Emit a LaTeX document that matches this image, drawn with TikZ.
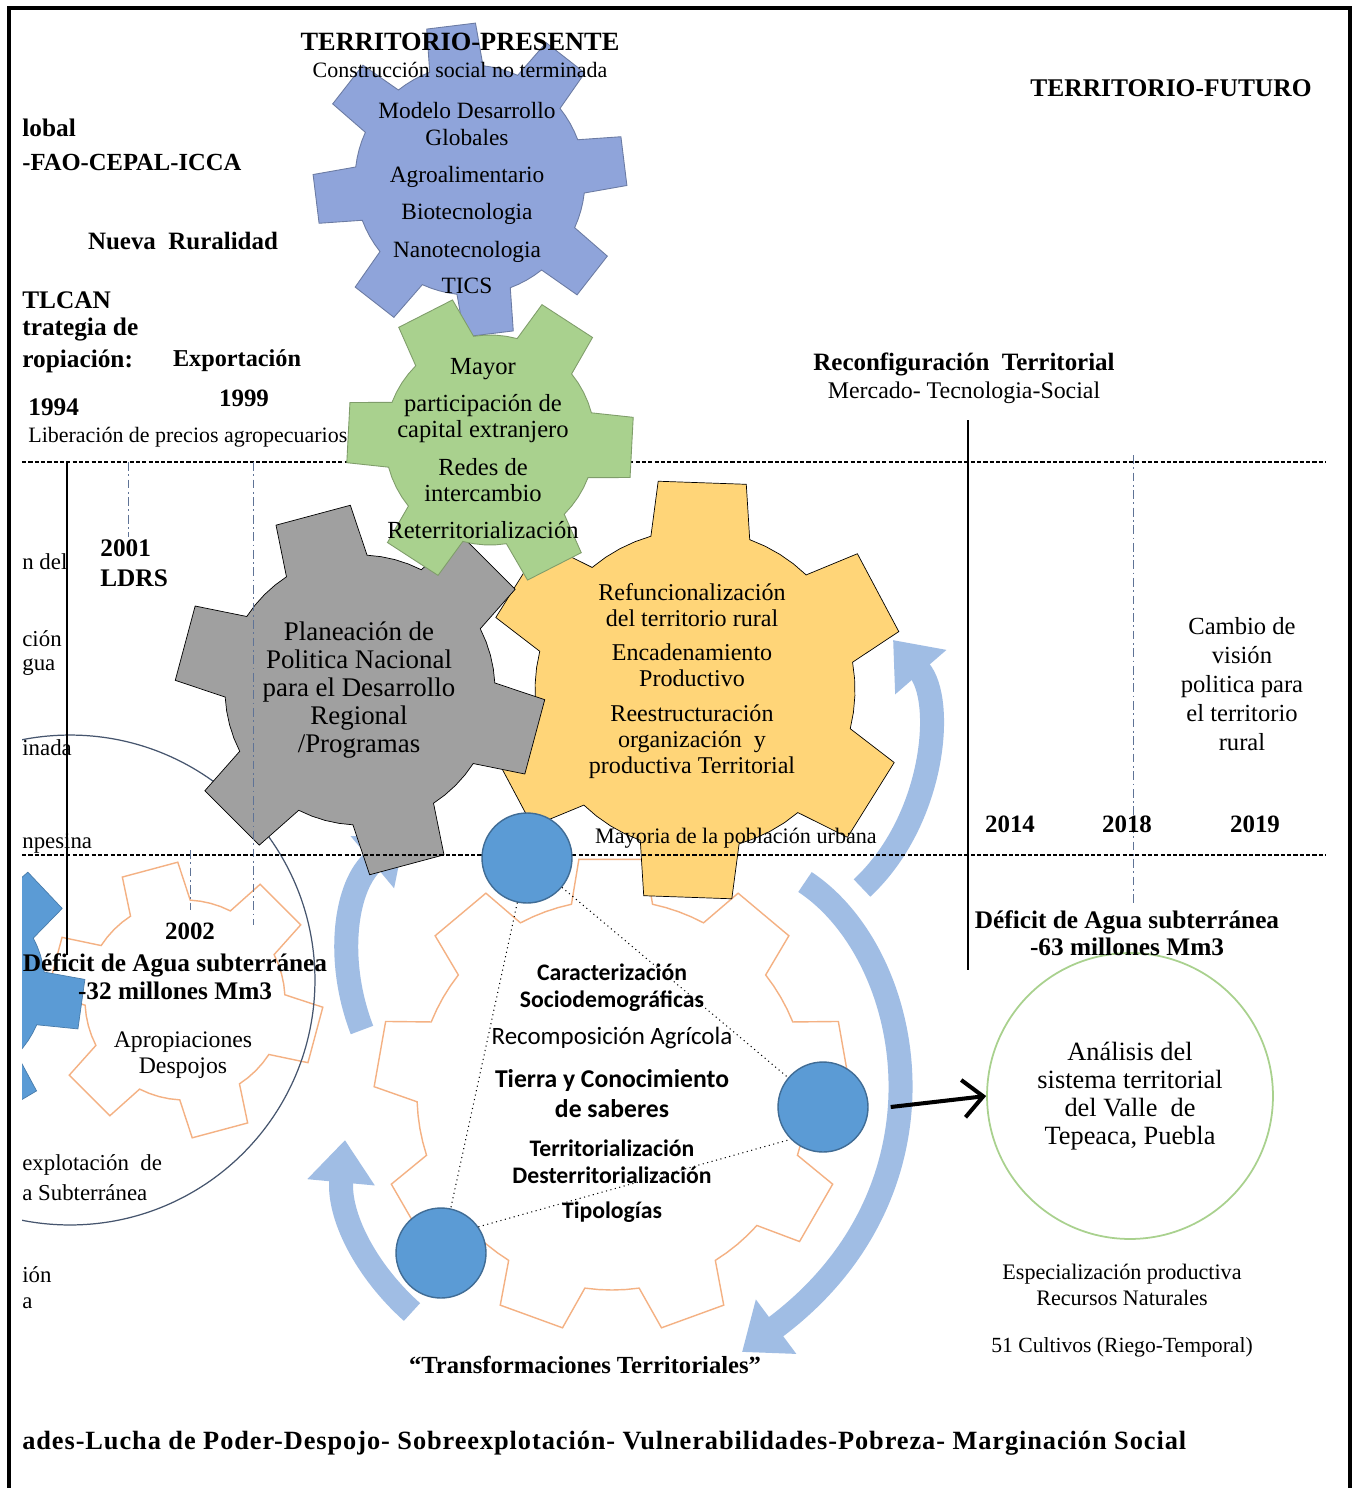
\documentclass[tikz,border=0pt]{standalone}
\usepackage{fontspec}
\setmainfont{Liberation Serif}
\newfontfamily\calib{Carlito}
\newfontfamily\widebold[LetterSpace=3.5]{Liberation Serif}
\usetikzlibrary{arrows.meta}

\definecolor{gblue}{RGB}{143,164,218}
\definecolor{ggreen}{RGB}{169,209,142}
\definecolor{ggray}{RGB}{160,160,160}
\definecolor{gyellow}{RGB}{255,213,120}
\definecolor{gorange}{RGB}{244,177,131}
\definecolor{dotblue}{RGB}{91,155,213}
\definecolor{cycblue}{RGB}{160,189,228}
\definecolor{ringgray}{RGB}{70,85,110}
\definecolor{tickblue}{RGB}{95,115,150}

% center, teeth, inner r, outer r, rotation, style
\newcommand{\gear}[6]{%
  \pgfmathsetmacro\gpitch{360/#2}
  \draw[#6, shift={#1}] ({#5-0.3*\gpitch}:#3)
    \foreach \k [evaluate=\k as \ga using #5+(\k-1)*\gpitch] in {1,...,#2} {
      -- ({\ga-0.2*\gpitch}:#4) -- ({\ga+0.2*\gpitch}:#4) -- ({\ga+0.3*\gpitch}:#3)
      -- ({\ga+0.4*\gpitch}:#3) -- ({\ga+0.5*\gpitch}:#3) -- ({\ga+0.6*\gpitch}:#3) -- ({\ga+0.7*\gpitch}:#3)
    } -- cycle;
}

\begin{document}
\begin{tikzpicture}[x=0.02cm, y=-0.02cm,
    txt/.style={inner sep=0pt, align=center, font=\fontsize{13.5}{15}\selectfont},
    btxt/.style={inner sep=0pt, align=center, font=\fontsize{14.2}{16}\selectfont\bfseries},
    side/.style={inner sep=0pt, anchor=west, align=left, font=\fontsize{13}{15}\selectfont},
    bside/.style={side, font=\fontsize{14.4}{16}\selectfont\bfseries},
    dashline/.style={line width=0.6pt, dash pattern=on 2.4pt off 1.2pt},
    tick/.style={tickblue, line width=0.5pt, dash pattern=on 5pt off 2pt on 1pt off 2pt},
    cyc/.style={cycblue, line width=0.48cm, -{Triangle[width=1.3cm, length=0.85cm]}},
    dot/.style={circle, fill=dotblue, draw=dotblue!70!black, line width=0.8pt, minimum size=1.8cm, inner sep=0pt},
    link/.style={dotted, line width=0.6pt}]

    \useasboundingbox (0,0) rectangle (1354,1488);
    \fill[white] (0,0) rectangle (1354,1488);

    \begin{scope}
        \clip (22,0) rectangle (1354,1488);

        \gear{(612,1095)}{9}{195}{238}{-90}{gorange, line width=0.8pt, fill=white}
        \gear{(185,1000)}{6}{100}{138}{15}{gorange, line width=0.8pt}
        \draw[ringgray, line width=0.7pt] (70,980) circle (4.9cm);
        \gear{(-55,985)}{7}{100}{140}{8}{fill=dotblue, draw=dotblue!80!black}

        \gear{(470,180)}{8}{115}{157}{-97}{fill=gblue, draw=gblue!75!black, line width=0.5pt}
        \gear{(695,690)}{6}{160}{212}{-28}{fill=gyellow}

        \draw[cyc] (805,882) .. controls (915,955) and (960,1190) .. (742,1352);
        \draw[cyc] (412,1312) .. controls (365,1270) and (338,1215) .. (345,1140);
        \draw[cyc] (362,1030) .. controls (335,960) and (345,885) .. (405,835);
        \draw[cyc] (862,888) .. controls (935,820) and (945,700) .. (893,640);

        \gear{(360,690)}{6}{135}{185}{15}{fill=ggray}

        \draw[dashline] (22,462) -- (1325,462);
        \draw[dashline] (22,855) -- (1325,855);
        \draw[line width=0.9pt] (67,462) -- (67,955);
        \draw[line width=0.9pt] (968,420) -- (968,970);
        \foreach \x/\ya/\yb in {128/462/537, 253/462/925, 190/850/910, 1133/455/905} {
            \draw[tick] (\x,\ya) -- (\x,\yb);
        }

        \gear{(490,440)}{6}{105}{145}{3}{fill=ggreen, draw=ggreen!75!black, line width=0.5pt}

        \node[dot] (dtop) at (527,858) {};
        \node[dot] (dright) at (823,1107) {};
        \node[dot] (dleft) at (441,1253) {};
        \draw[link] (dtop) -- (dright) (dtop) -- (dleft) (dleft.35) -- (dright.225);

        \node[circle, draw=ggreen, line width=1pt, minimum size=5.72cm, txt, font=\fontsize{15}{16}\selectfont] (analisis) at (1130,1096) {Análisis del\\sistema territorial\\del Valle~ de\\Tepeaca, Puebla};
        \draw[line width=2.3pt, -{Straight Barb[length=0.4cm, width=0.75cm]}] ([xshift=0.44cm]dright.east) -- (analisis.west);

        \node[btxt, font=\fontsize{15}{17}\selectfont\bfseries] (tpres) at (460,42) {TERRITORIO-PRESENTE};
        \node[txt, font=\fontsize{12.5}{14}\selectfont] (tpresb) at (460,70) {Construcción social no terminada};
        \node[btxt, font=\fontsize{14.5}{16}\selectfont\bfseries] (tfut) at (1171,88) {TERRITORIO-FUTURO};

        \node[txt, font=\fontsize{13.3}{15.4}\selectfont] (bluetxt) at (467,198) {Modelo Desarrollo\\Globales\\[5.7pt]Agroalimentario\\[5.7pt]Biotecnologia\\[5.7pt]Nanotecnologia\\[5.2pt]TICS};
        \node[txt, font=\fontsize{14}{14.8}\selectfont] (greentxt) at (483,449) {Mayor\\[6.3pt]participación de\\capital extranjero\\[6.3pt]Redes de\\intercambio\\[6.8pt]Reterritorialización};
        \node[txt, font=\fontsize{15.3}{16}\selectfont] (graytxt) at (359,690) {Planeación de\\Politica Nacional\\para el Desarrollo\\Regional\\/Programas};
        \node[txt, font=\fontsize{13.7}{14.8}\selectfont] (yellowtxt) at (692,681) {Refuncionalización\\del territorio rural\\[5pt]Encadenamiento\\Productivo\\[5pt]Reestructuración\\organización~ y\\productiva Territorial};

        \node[btxt] (reconf) at (964,364) {Reconfiguración~ Territorial};
        \node[txt, font=\fontsize{13.6}{15}\selectfont] (mercado) at (964,393) {Mercado- Tecnologia-Social};
        \node[txt, font=\fontsize{14}{16.5}\selectfont] (cambio) at (1242,684) {Cambio de\\visión\\politica para\\el territorio\\rural};
        \foreach \x/\yr in {1010/2014, 1127/2018, 1255/2019} {
            \node[btxt] (y\yr) at (\x,824) {\yr};
        }
        \node[txt, font=\fontsize{12.6}{14}\selectfont] (urbana) at (736,838) {Mayoria de la población urbana};
        \node[btxt, font=\fontsize{14.4}{15.4}\selectfont\bfseries] (def63) at (1127,933) {Déficit de Agua subterránea\\-63 millones Mm3};

        \node[txt, font=\calib\fontsize{13.5}{15.4}\selectfont\bfseries] (caract) at (612,988) {Caracterización\\Sociodemográficas};
        \node[txt, font=\calib\fontsize{14.2}{16}\selectfont] (recomp) at (612,1038) {Recomposición Agrícola};
        \node[txt, font=\calib\fontsize{14.6}{17}\selectfont\bfseries] (tierra) at (612,1094) {Tierra y Conocimiento\\de saberes};
        \node[txt, font=\calib\fontsize{13.5}{15.4}\selectfont\bfseries] (territ) at (612,1162) {Territorialización\\Desterritorialización};
        \node[txt, font=\calib\fontsize{13.5}{15.4}\selectfont\bfseries] (tipol) at (612,1212) {Tipologías};

        \node[txt, font=\fontsize{12.6}{14.8}\selectfont] (especial) at (1122,1285) {Especialización productiva\\Recursos Naturales};
        \node[txt, font=\fontsize{12.3}{14}\selectfont] (cultivos) at (1122,1347) {51 Cultivos (Riego-Temporal)};
        \node[btxt, font=\fontsize{14}{16}\selectfont\bfseries] (transf) at (585,1365) {“Transformaciones Territoriales”};
        \node[bside, font=\widebold\fontsize{15}{17}\selectfont\bfseries] (bottomline) at (22,1443) {ades-Lucha de Poder-Despojo- Sobreexplotación- Vulnerabilidades-Pobreza- Marginación Social};

        \node[bside] (lobal) at (22,128) {lobal};
        \node[bside, font=\fontsize{14}{16}\selectfont\bfseries] (fao) at (22,162) {-FAO-CEPAL-ICCA};
        \node[btxt] (nueva) at (183,241) {Nueva~ Ruralidad};
        \node[bside] (tlcan) at (22,300) {TLCAN};
        \node[bside] (estrat) at (22,330) {trategia de};
        \node[bside] (apropia) at (22,361) {ropiación:};
        \node[btxt, font=\fontsize{13.8}{16}\selectfont\bfseries] (export) at (237,361) {Exportación};
        \node[btxt] (y1999) at (244,398) {1999};
        \node[bside] (y1994) at (28,407) {1994};
        \node[side, font=\fontsize{12.5}{14}\selectfont] (liber) at (28,437) {Liberación de precios agropecuarios};
        \node[side] (ndel) at (22,562) {n del};
        \node[side] (cion) at (22,639) {ción};
        \node[side] (gua) at (22,667) {gua};
        \node[side] (inada) at (22,748) {inada};
        \node[side] (npes) at (22,843) {npesina};
        \node[bside, font=\fontsize{14.4}{17}\selectfont\bfseries] (ldrs) at (100,563) {2001\\LDRS};
        \node[btxt] (y2002) at (190,931) {2002};
        \node[btxt, font=\fontsize{14.4}{16}\selectfont\bfseries] (def32) at (175,977) {Déficit de Agua subterránea\\-32 millones Mm3};
        \node[txt] (aprop) at (183,1055) {Apropiaciones\\Despojos};
        \node[side] (explot) at (22,1165) {explotación~ de};
        \node[side] (subt) at (22,1193) {a Subterránea};
        \node[side] (ion) at (22,1275) {ión};
        \node[side] (la) at (22,1303) {a};
    \end{scope}

    \draw[line width=1.8pt] (9,1488) -- (9,8) -- (1350,8) -- (1350,1488);
\end{tikzpicture}
\end{document}
